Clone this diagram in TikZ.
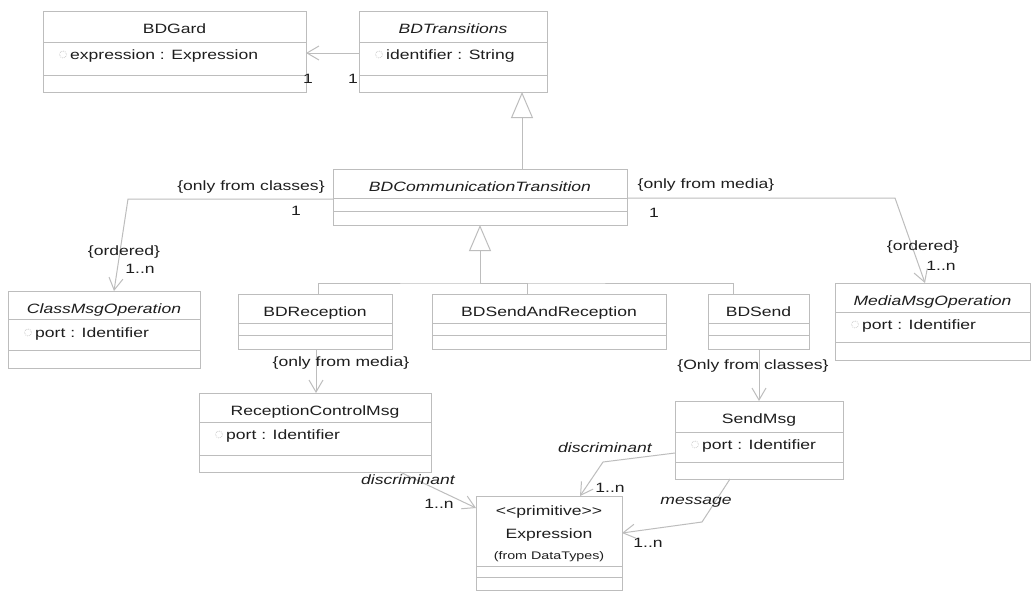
\documentclass[tikz,border=0pt]{standalone}
\usepackage{fontspec}
\setmainfont{Liberation Sans}[FakeStretch=1.3]
\usetikzlibrary{arrows.meta}

\definecolor{umlgray}{HTML}{BDBDBD}
\definecolor{umltext}{HTML}{1E1E1E}

% class box: name, x1, y1, x2, y2, first row, second row, title
\newcommand{\umlclass}[8]{%
  \node[classbox, minimum width={(#4)-(#2)}, minimum height={(#5)-(#3)}] (#1) at ({((#2)+(#4))/2},{((#3)+(#5))/2}) {};
  \draw[umlline] (#2,#6) -- (#4,#6);
  \draw[umlline] (#2,#7) -- (#4,#7);
  \node[classname] (#1-name) at ({((#2)+(#4))/2},{(#3)+22.5}) {#8};
}
% attribute line: name, x1, baseline, text
\newcommand{\umlattr}[4]{%
  \draw[attricon] ({(#2)+20},{(#3)-4.5}) circle (3.5);
  \node[attrname] (#1-attr) at ({(#2)+27},#3) {#4};
}

\begin{document}
\begin{tikzpicture}[x=1pt, y=-1pt,
    umlline/.style={draw=umlgray, line width=1pt},
    classbox/.style={umlline, rectangle, inner sep=0pt, outer sep=0pt},
    classname/.style={anchor=base, inner sep=0pt, text=umltext, font=\fontsize{13.5}{16}\selectfont},
    attrname/.style={anchor=base west, inner sep=0pt, text=umltext, font=\fontsize{13.5}{16}\selectfont},
    attricon/.style={draw=umlgray!70, densely dotted, line width=0.8pt},
    lbl/.style={inner sep=0pt, text=umltext, font=\fontsize{13.5}{16}\selectfont},
    assoc/.style={umlline, -{Straight Barb[length=12pt, width=14pt]}},
    gen/.style={umlline, -{Triangle[open, length=26pt, width=22pt, fill=white]}}]
    \useasboundingbox (0,0) rectangle (1032,592);
    \fill[white] (0,0) rectangle (1032,592);
    %% Classes
    \umlclass{bdgard}{43}{11}{306}{92}{42}{75}{BDGard}
    \umlattr{bdgard}{43}{59}{expression : Expression}
    \umlclass{bdtrans}{359}{11}{547}{92}{42}{75}{\itshape BDTransitions}
    \umlattr{bdtrans}{359}{59}{identifier : String}
    \umlclass{bdcomm}{333}{169}{627}{225}{198}{211}{\itshape BDCommunicationTransition}
    \umlclass{classop}{8}{291}{200}{368}{319}{350}{\itshape ClassMsgOperation}
    \umlattr{classop}{8}{337}{port : Identifier}
    \umlclass{bdrecep}{238}{294}{392}{349}{323}{335}{BDReception}
    \umlclass{bdsar}{432}{294}{666}{349}{323}{335}{BDSendAndReception}
    \umlclass{bdsend}{708}{294}{809}{349}{323}{335}{BDSend}
    \umlclass{mediaop}{835}{283}{1030}{360}{312}{342}{\itshape MediaMsgOperation}
    \umlattr{mediaop}{835}{329}{port : Identifier}
    \umlclass{rcm}{199}{393}{431}{472}{422}{455}{ReceptionControlMsg}
    \umlattr{rcm}{199}{439}{port : Identifier}
    \umlclass{sendmsg}{675}{401}{843}{479}{432}{462}{SendMsg}
    \umlattr{sendmsg}{675}{449}{port : Identifier}
    \umlclass{expr}{476}{496}{622}{590}{566}{577}{}
    \node[classname] (expr-stereo) at (549,515) {<\kern0pt<primitive>\kern0pt>};
    \node[classname] (expr-title) at (549,538) {Expression};
    \node[classname, font=\fontsize{11}{13}\selectfont] (expr-from) at (549,559) {(from DataTypes)};
    %% Arrows
    \draw[assoc] ([yshift=-42pt]bdtrans.north west) -- ([yshift=-42pt]bdgard.north east);
    \draw[gen] ([xshift=189pt]bdcomm.north west) -- ([xshift=163pt]bdtrans.south west);
    \coordinate (hbar) at (480,283);
    \draw[gen] (hbar) -- (bdcomm.south);
    \draw[umlline] ([xshift=80pt]bdrecep.north west) |- (hbar) -| ([xshift=25pt]bdsend.north west);
    \draw[umlline] ([xshift=95pt]bdsar.north west) |- (hbar);
    \coordinate (cbend) at (128,199);
    \draw[assoc] ([yshift=-30pt]bdcomm.north west) -- (cbend) -- ([xshift=106pt]classop.north west);
    \coordinate (mbend) at (895,198);
    \draw[assoc] ([yshift=-29pt]bdcomm.north east) -- (mbend) -- ([xshift=90pt]mediaop.north west);
    \draw[assoc] ([xshift=78pt]bdrecep.south west) -- ([xshift=117pt]rcm.north west);
    \draw[assoc] ([xshift=51pt]bdsend.south west) -- ([xshift=84pt]sendmsg.north west);
    \draw[assoc] ([xshift=201pt]rcm.south west) -- ([yshift=-12pt]expr.north west);
    \coordinate (dbend) at (603,462);
    \draw[assoc] ([yshift=-52pt]sendmsg.north west) -- (dbend) -- ([xshift=104pt]expr.north west);
    \coordinate (msgbend) at (702,522);
    \draw[assoc] ([xshift=55pt]sendmsg.south west) -- (msgbend) -- ([yshift=-37pt]expr.north east);
    %% Labels
    \node[lbl] (gard-one) at (308,79) {1};
    \node[lbl] (trans-one) at (353,79) {1};
    \node[lbl] (cls-only) at (251,187) {\{only from classes\}};
    \node[lbl] (cls-one) at (296,211) {1};
    \node[lbl] (cls-ord) at (124,252) {\{ordered\}};
    \node[lbl] (cls-many) at (140,269) {1..n};
    \node[lbl] (med-only) at (706,185) {\{only from media\}};
    \node[lbl] (med-one) at (654,213) {1};
    \node[lbl] (med-ord) at (923,247) {\{ordered\}};
    \node[lbl] (med-many) at (941,266) {1..n};
    \node[lbl] (recep-only) at (341,363) {\{only from media\}};
    \node[lbl] (send-only) at (753,366) {\{Only from classes\}};
    \node[lbl] (rcm-disc) at (408,480) {\itshape discriminant};
    \node[lbl] (rcm-many) at (439,504) {1..n};
    \node[lbl] (snd-disc) at (605,448) {\itshape discriminant};
    \node[lbl] (snd-many) at (610,488) {1..n};
    \node[lbl] (snd-msg) at (696,502) {\itshape message};
    \node[lbl] (msg-many) at (648,543) {1..n};
\end{tikzpicture}
\end{document}
